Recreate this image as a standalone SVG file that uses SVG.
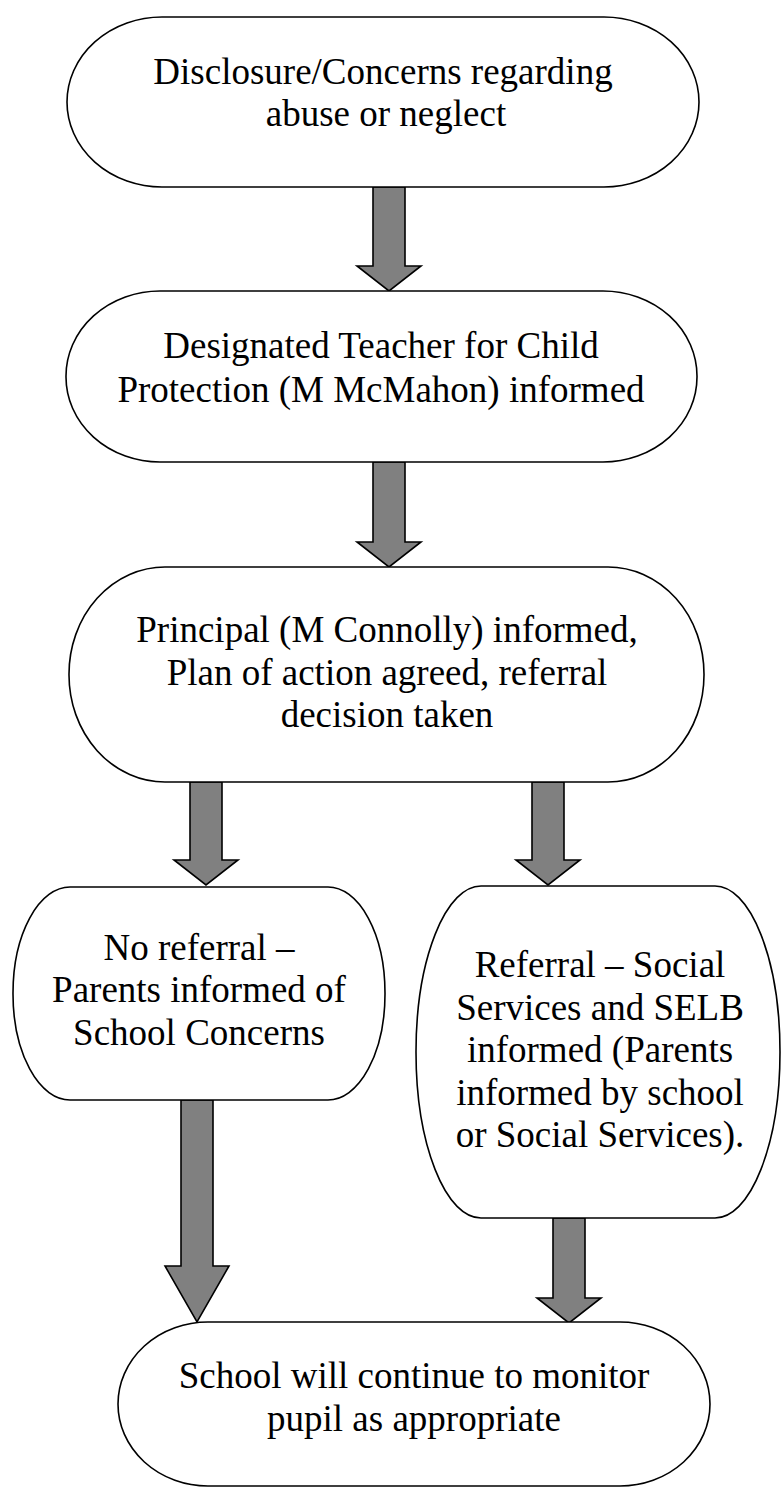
<svg xmlns="http://www.w3.org/2000/svg" width="782" height="1488" viewBox="0 0 782 1488" font-family="Liberation Serif">
<style>
.node{fill:#ffffff;stroke:#000000;stroke-width:1.6}
.arrow{fill:#808080;stroke:#000000;stroke-width:1.6;stroke-linejoin:miter}
.t{font-size:37px;fill:#000000;text-anchor:middle;font-family:Liberation Serif,serif}
</style>
<rect width="782" height="1488" fill="#ffffff"/>
<g id="connectors">
<polygon class="arrow" points="373,187 405,187 405,266 421,266 389,291 357,266 373,266"/>
<polygon class="arrow" points="373,462 405,462 405,542 421,542 389,567 357,542 373,542"/>
<polygon class="arrow" points="190,782 222,782 222,860 238,860 206,885 174,860 190,860"/>
<polygon class="arrow" points="532,782 564,782 564,860 580,860 548,885 516,860 532,860"/>
<polygon class="arrow" points="181,1100 213,1100 213,1266 229,1266 197,1322 165,1266 181,1266"/>
<polygon class="arrow" points="553,1218 585,1218 585,1298 601,1298 569,1323 537,1298 553,1298"/>
</g>
<g id="node1">
<rect class="node" x="67" y="17" width="632" height="170" rx="95" ry="85"/>
<text class="t" x="383" y="84">Disclosure/Concerns regarding</text>
<text class="t" x="386" y="126">abuse or neglect</text>
</g>
<g id="node2">
<rect class="node" x="66" y="291" width="631" height="171" rx="94" ry="85"/>
<text class="t" x="381" y="358">Designated Teacher for Child</text>
<text class="t" x="381" y="402">Protection (M McMahon) informed</text>
</g>
<g id="node3">
<rect class="node" x="69" y="567" width="635" height="215" rx="96" ry="107"/>
<text class="t" x="387" y="642">Principal (M Connolly) informed,</text>
<text class="t" x="387" y="684.5">Plan of action agreed, referral</text>
<text class="t" x="387" y="727">decision taken</text>
</g>
<g id="node4">
<rect class="node" x="13" y="887" width="372" height="213" rx="57" ry="106"/>
<text class="t" x="199" y="960">No referral –</text>
<text class="t" x="199" y="1002">Parents informed of</text>
<text class="t" x="199" y="1045">School Concerns</text>
</g>
<g id="node5">
<rect class="node" x="416" y="886" width="364" height="332" rx="65" ry="166"/>
<text class="t" x="600" y="977">Referral – Social</text>
<text class="t" x="600" y="1019.5">Services and SELB</text>
<text class="t" x="600" y="1062">informed (Parents</text>
<text class="t" x="600" y="1104.5">informed by school</text>
<text class="t" x="600" y="1147">or Social Services).</text>
</g>
<g id="node6">
<rect class="node" x="118" y="1322" width="592" height="164" rx="90" ry="82"/>
<text class="t" x="414" y="1388">School will continue to monitor</text>
<text class="t" x="414" y="1431">pupil as appropriate</text>
</g>
</svg>
